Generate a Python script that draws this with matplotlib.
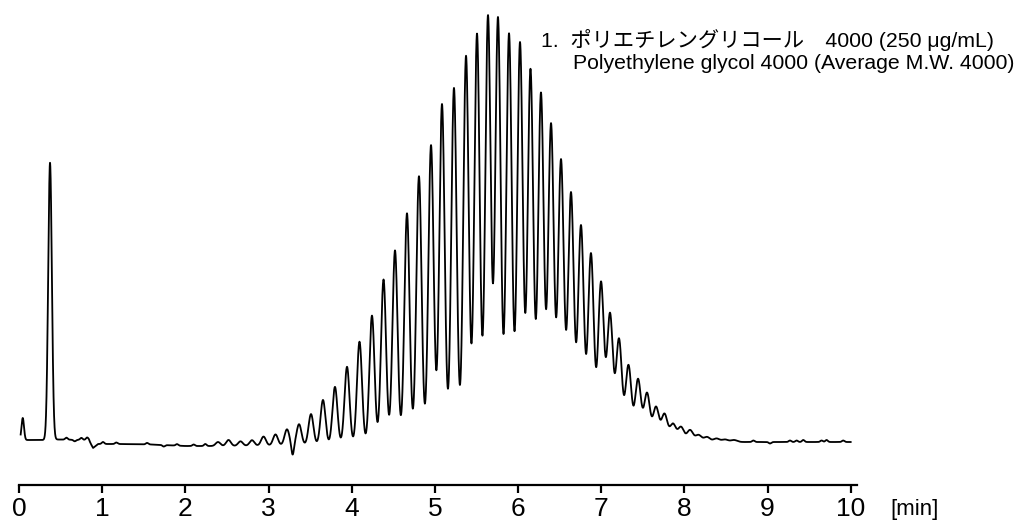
import numpy as np
import matplotlib
matplotlib.use("Agg")
import matplotlib.pyplot as plt

plt.rcParams['font.family'] = ['Liberation Sans', 'Noto Sans CJK JP', 'DejaVu Sans']

# retention time [min] and height of the early (solvent / system) peaks
front_t = [0.045, 0.373]
front_h = [22, 277]
front_w = [0.015, 0.022]

# PEG 4000 oligomer peaks
peg_t = [2.393, 2.519, 2.663, 2.801, 2.940, 3.084, 3.222, 3.367, 3.511, 3.655,
         3.799, 3.944, 4.094, 4.244, 4.383, 4.521, 4.665, 4.809, 4.954, 5.086,
         5.230, 5.375, 5.507, 5.639, 5.759, 5.892, 6.024, 6.150, 6.276, 6.397,
         6.517, 6.637, 6.757, 6.877, 6.998, 7.106, 7.214, 7.328, 7.443, 7.551,
         7.659, 7.761, 7.863, 7.960, 8.068, 8.170, 8.272, 8.386, 8.489, 8.597]
peg_h = [4, 6, 4.5, 5.5, 9, 11, 16, 21, 31, 45,
         58, 78, 103, 129, 165, 194, 231, 268, 299, 340,
         356, 388, 410, 428, 426, 410, 401, 374, 350, 319,
         283, 250, 217, 189, 160, 128, 103, 77, 63, 49,
         35, 28, 18, 15, 12, 7, 5, 3.5, 2.5, 2]

# small disturbances on the baseline
dist_t = [0.57, 0.67, 0.75, 0.82, 1.01, 1.17, 1.54, 1.74, 1.90, 2.10, 2.24,
          3.29, 8.83, 9.03, 9.27, 9.35, 9.43, 9.65, 9.71, 9.91]
dist_h = [2, -1.5, 2, 2.5, 2, 1.5, 1.5, -1.5, 1.5, 1.5, 2,
          -11, 1.5, -1.5, 1.5, 1.5, 2, 1.5, 2, 1.5]
dist_w = 0.015

# baseline level (drift)
base_t = [0.0, 0.30, 0.45, 0.84, 0.89, 0.95, 1.2, 1.6, 2.0, 2.5, 3.0, 3.6, 8.3, 10.0]
base_lvl = [2, 2, 2.5, 2, -6, -2, -2, -2.5, -4, -4, -3.5, -3, 0, 0]

x_ticks = [0, 1, 2, 3, 4, 5, 6, 7, 8, 9, 10]


def gauss_sum(t, centers, heights, widths):
    y = np.zeros_like(t)
    if np.isscalar(widths):
        widths = [widths] * len(centers)
    for c, h, w in zip(centers, heights, widths):
        y += h * np.exp(-(t - c) ** 2 / (2 * w ** 2))
    return y


# oligomer peaks broaden slowly with retention time
peg_w = [0.031 + 0.0015 * (c - 4.5) for c in peg_t]

t = np.linspace(0.02, 10.0, 8000)
signal = np.interp(t, base_t, base_lvl)
signal += gauss_sum(t, front_t, front_h, front_w)
signal += gauss_sum(t, peg_t, peg_h, peg_w)
signal += gauss_sum(t, dist_t, dist_h, dist_w)

W, H = 1019, 525
fig = plt.figure(figsize=(W / 100, H / 100), dpi=100)
ax = fig.add_axes([19 / W, 40 / H, 837.5 / W, 480 / H])
ax.plot(t, signal, color='black', lw=1.3)

ax.set_xlim(0, 10.07)
ax.set_ylim(-43, 437)
for s in ['left', 'right', 'top']:
    ax.spines[s].set_visible(False)
ax.spines['bottom'].set_linewidth(1.6)
ax.set_yticks([])
ax.set_xticks(x_ticks)
ax.set_xticklabels([str(v) for v in x_ticks])
ax.tick_params(axis='x', direction='out', length=6, width=1.6, pad=2.8, labelsize=19)

fig.text(890 / W, 1 - 509 / H, '[min]', fontsize=16, ha='left', va='center')

fig.text(541 / W, 1 - 47 / H, '1.  ポリエチレングリコール\u30004000 (250 \u03bcg/mL)',
         fontsize=15.3, ha='left', va='baseline')
fig.text(573 / W, 1 - 69 / H, 'Polyethylene glycol 4000 (Average M.W. 4000)',
         fontsize=15.3, ha='left', va='baseline')

fig.savefig('out.png', dpi=100)
